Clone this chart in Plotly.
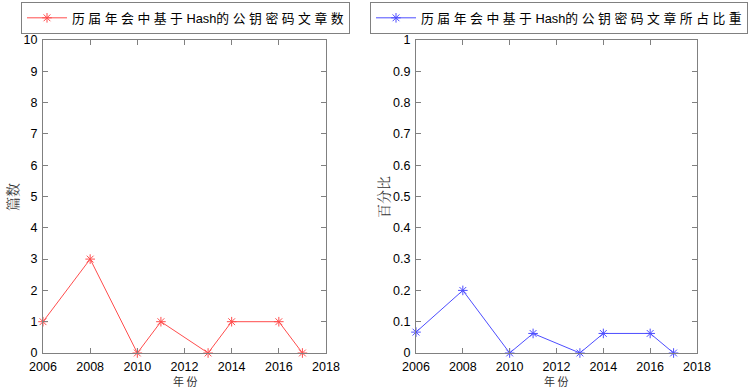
import plotly.graph_objects as go

years = [2006, 2008, 2010, 2011, 2013, 2014, 2016, 2017]
counts = [1, 3, 0, 1, 0, 1, 1, 0]
ratios = [0.0667, 0.2, 0, 0.0625, 0, 0.0625, 0.0625, 0]
name_left = "历 届 年 会 中 基 于 Hash的 公 钥 密 码 文 章 数"
name_right = "历 届 年 会 中 基 于 Hash的 公 钥 密 码 文 章 所 占 比 重"
x_ticks = [2006, 2008, 2010, 2012, 2014, 2016, 2018]
left_ticks = list(range(0, 11))
right_ticks = [0, 0.1, 0.2, 0.3, 0.4, 0.5, 0.6, 0.7, 0.8, 0.9, 1]
right_ticktext = ["0", "0.1", "0.2", "0.3", "0.4", "0.5", "0.6", "0.7", "0.8", "0.9", "1"]
x_title = "年 份"
y_title_left = "篇数"
y_title_right = "百分比"

W, H = 748, 389
fig = go.Figure()
fig.add_trace(go.Scatter(x=years, y=counts, mode="lines+markers", name=name_left,
                         line=dict(color="#ff4d4d", width=1),
                         marker=dict(symbol="asterisk-open", size=8, color="#ff4d4d", line=dict(width=1, color="#ff4d4d")),
                         xaxis="x", yaxis="y", legend="legend", cliponaxis=False))
fig.add_trace(go.Scatter(x=years, y=ratios, mode="lines+markers", name=name_right,
                         line=dict(color="#4d4dff", width=1),
                         marker=dict(symbol="asterisk-open", size=8, color="#4d4dff", line=dict(width=1, color="#4d4dff")),
                         xaxis="x2", yaxis="y2", legend="legend2", cliponaxis=False))

axis_common = dict(showline=True, mirror="ticks", linecolor="#808080", linewidth=1,
                   ticks="inside", ticklen=5, tickcolor="#808080", showgrid=False, zeroline=False,
                   automargin=False,
                   tickfont=dict(family="Liberation Sans, Arial", size=12.5, color="#000"))

L0, L1 = 43/W, 326/W
R0, R1 = 416/W, 697/W
Y0, Y1 = 1-353/H, 1-40/H

legfont = dict(family="Liberation Sans, Noto Sans CJK SC", size=12.8, color="#000")
fig.update_layout(
    width=W, height=H, margin=dict(l=0, r=0, t=0, b=0, autoexpand=False),
    paper_bgcolor="white", plot_bgcolor="white",
    xaxis=dict(domain=[L0, L1], range=[2006, 2018], tickvals=x_ticks, anchor="y",
               ticklabelstandoff=2, **axis_common),
    yaxis=dict(domain=[Y0, Y1], range=[0, 10], tickvals=left_ticks, anchor="x",
               ticklabelstandoff=2, **axis_common),
    xaxis2=dict(domain=[R0, R1], range=[2006, 2018], tickvals=x_ticks, anchor="y2",
                ticklabelstandoff=2, **axis_common),
    yaxis2=dict(domain=[Y0, Y1], range=[0, 1], tickvals=right_ticks, ticktext=right_ticktext, anchor="x2",
                ticklabelstandoff=2, **axis_common),
    legend=dict(x=21/W, y=1-2/H, xanchor="left", yanchor="top", bordercolor="#808080", borderwidth=1,
                bgcolor="white", tracegroupgap=0, itemwidth=40, font=legfont),
    legend2=dict(x=370/W, y=1-2/H, xanchor="left", yanchor="top", bordercolor="#808080", borderwidth=1,
                 bgcolor="white", tracegroupgap=0, itemwidth=40, font=legfont),
    showlegend=True,
)

tfont = dict(family="Noto Sans CJK SC", size=11, color="#333")
yfont = dict(family="Noto Serif CJK SC, Noto Sans CJK SC", size=14, color="#333")
for cx in [(L0 + L1) / 2, (R0 + R1) / 2]:
    fig.add_annotation(text=x_title, x=cx, y=1-380.5/H, xref="paper", yref="paper",
                       showarrow=False, font=tfont, xanchor="center", yanchor="middle", borderpad=0)
fig.add_annotation(text=y_title_left, x=12/W, y=1-197/H, xref="paper", yref="paper",
                   showarrow=False, font=yfont, textangle=-90, xanchor="center", yanchor="middle")
fig.add_annotation(text=y_title_right, x=383/W, y=1-197/H, xref="paper", yref="paper",
                   showarrow=False, font=yfont, textangle=-90, xanchor="center", yanchor="middle")
fig.write_html("out.html")
